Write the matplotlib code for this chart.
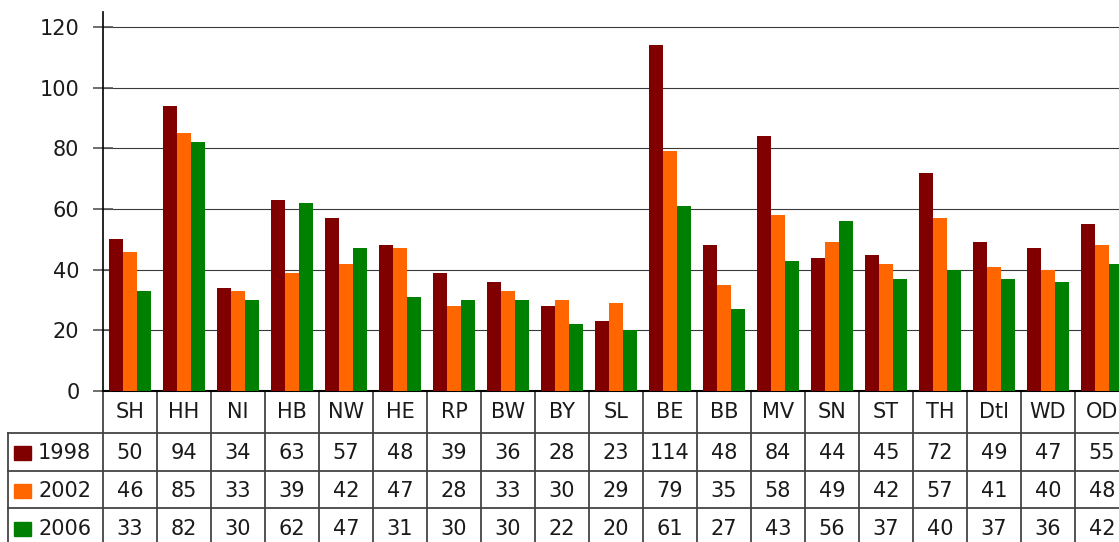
import numpy as np
import matplotlib
matplotlib.use("Agg")
import matplotlib.pyplot as plt
from matplotlib.patches import Rectangle
from matplotlib.lines import Line2D

# region codes and values per year
regions = ["SH", "HH", "NI", "HB", "NW", "HE", "RP", "BW", "BY", "SL",
           "BE", "BB", "MV", "SN", "ST", "TH", "Dtl", "WD", "OD"]
years = ["1998", "2002", "2006"]
v1998 = [50, 94, 34, 63, 57, 48, 39, 36, 28, 23, 114, 48, 84, 44, 45, 72, 49, 47, 55]
v2002 = [46, 85, 33, 39, 42, 47, 28, 33, 30, 29, 79, 35, 58, 49, 42, 57, 41, 40, 48]
v2006 = [33, 82, 30, 62, 47, 31, 30, 30, 22, 20, 61, 27, 43, 56, 37, 40, 37, 36, 42]
yticks = [0, 20, 40, 60, 80, 100, 120]

colors = ["#800000", "#ff6600", "#008000"]
series = [v1998, v2002, v2006]

W, H = 1119, 542
plt.rcParams["font.family"] = "DejaVu Sans"
fig = plt.figure(figsize=(W / 100, H / 100), dpi=100)

# axes geometry in pixels
x0, y0, ytop = 103, 391, 12
colw = 54
n = len(regions)
ax = fig.add_axes([x0 / W, (H - y0) / H, n * colw / W, (y0 - ytop) / H])

x = np.arange(n)
bw = 0.265
for i, (vals, c) in enumerate(zip(series, colors)):
    ax.bar(x + (i - 1) * bw, vals, width=bw, color=c, zorder=3)

ax.set_xlim(-0.5, n - 0.5)
ax.set_ylim(0, 125)
ax.set_yticks(yticks)
ax.set_yticklabels([str(t) for t in yticks], fontsize=15, color="#1a1a1a")
ax.tick_params(axis="y", direction="inout", length=14, width=1.2, color="#555555", pad=10)
ax.set_xticks([])
ax.grid(axis="y", color="#3a3a3a", linewidth=0.8, zorder=0)
for s in ["top", "right"]:
    ax.spines[s].set_visible(False)
ax.spines["left"].set_linewidth(1.2)
ax.spines["bottom"].set_linewidth(1.5)

# data table under the axes
ph = y0 - ytop  # axes height in px
def fy(py):
    return -(py - y0) / ph

tr = ax.get_xaxis_transform()
lc = "#444444"
row_lines = [433, 471, 508]
row_mid = [412, 453, 491, 529]
xleft = -0.5 - (x0 - 8) / colw

# vertical lines between columns
for k in range(n + 1):
    ax.add_line(Line2D([k - 0.5, k - 0.5], [fy(391), fy(560)], transform=tr,
                       color=lc, linewidth=1.3, clip_on=False))
# left border of legend column
ax.add_line(Line2D([xleft, xleft], [fy(433), fy(560)], transform=tr,
                   color=lc, linewidth=1.3, clip_on=False))
# horizontal lines
ax.add_line(Line2D([-0.5, n - 0.5], [fy(row_lines[0]), fy(row_lines[0])], transform=tr,
                   color=lc, linewidth=1.3, clip_on=False))
ax.add_line(Line2D([xleft, -0.5], [fy(row_lines[0]), fy(row_lines[0])], transform=tr,
                   color=lc, linewidth=1.3, clip_on=False))
for yl in row_lines[1:]:
    ax.add_line(Line2D([xleft, n - 0.5], [fy(yl), fy(yl)], transform=tr,
                       color=lc, linewidth=1.3, clip_on=False))

# header row
for k, r in enumerate(regions):
    ax.text(k, fy(row_mid[0]), r, transform=tr, ha="center", va="center",
            fontsize=15, color="#1a1a1a", clip_on=False)

# data rows with legend keys
for j, (yr, vals, c) in enumerate(zip(years, series, colors)):
    ym = row_mid[j + 1]
    fig.patches.append(Rectangle((14 / W, (H - ym - 7) / H), 17 / W, 14 / H,
                                 transform=fig.transFigure, color=c))
    fig.text(38 / W, (H - ym) / H, yr, ha="left", va="center",
             fontsize=15, color="#1a1a1a")
    for k, v in enumerate(vals):
        ax.text(k, fy(ym), str(v), transform=tr, ha="center", va="center",
                fontsize=15, color="#1a1a1a", clip_on=False)

fig.savefig("out.png", dpi=100)
